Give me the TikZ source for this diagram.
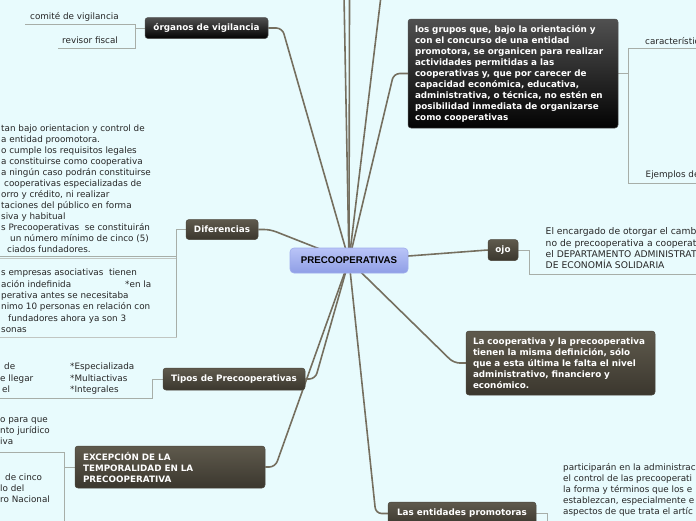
\documentclass[tikz,border=0pt]{standalone}
\usepackage{fontspec}
\setmainfont{DejaVu Sans}
\newfontfamily\arialf{Liberation Sans}
\usetikzlibrary{backgrounds,calc}
\definecolor{bgc}{HTML}{E8FBFD}
\definecolor{olT}{HTML}{5F5A4D}
\definecolor{olB}{HTML}{3B372E}
\definecolor{olD}{HTML}{4A463C}
\definecolor{kT}{HTML}{505050}
\definecolor{kB}{HTML}{030303}
\definecolor{cT}{HTML}{B9C4F7}
\definecolor{cB}{HTML}{8F9EE6}
\definecolor{cD}{HTML}{9FACEC}
\definecolor{connc}{HTML}{756F5F}
\definecolor{subc}{HTML}{A7AEA8}
\definecolor{leafc}{HTML}{262626}
\begin{document}
\begin{tikzpicture}[x=1pt,y=-1pt,
  tbox/.style={rounded corners=3pt, text=white, font=\bfseries\fontsize{8.8}{11}\selectfont,
    inner sep=0pt, top color=olT, bottom color=olB, draw=olD, line width=0.5pt},
  kbox/.style={rounded corners=3pt, text=white, font=\bfseries\fontsize{8.8}{11}\selectfont,
    inner sep=0pt, top color=kT, bottom color=kB, draw=kT, line width=0.5pt},
  cbox/.style={rounded corners=4pt, text=black, font=\arialf\bfseries\fontsize{9.7}{11}\selectfont,
    inner sep=0pt, top color=cT, bottom color=cB, draw=cD, line width=0.6pt,
    minimum width=118pt, minimum height=25pt},
  leaf/.style={font=\fontsize{8.8}{11}\selectfont, text=leafc, inner sep=0pt,
    anchor=north west, align=left, execute at begin node=\strut},
  conn/.style={draw=connc, line width=1.6pt, rounded corners=6pt},
  sub/.style={draw=subc, line width=0.9pt},
  subbox/.style={draw=subc!70, line width=0.8pt}]
\useasboundingbox (0,0) rectangle (696,520);
\begin{scope}
\clip (0,0) rectangle (696,520);
% main nodes
\node[cbox] (c) at (349,260.5) {PRECOOPERATIVAS};
\node[kbox, minimum width=123pt, minimum height=21pt] (orgs) at (206.5,28) {órganos de vigilancia};
\node[tbox, minimum width=72pt, minimum height=20pt] (dif) at (222,229.5) {Diferencias};
\node[tbox, minimum width=142pt, minimum height=22pt] (tipos) at (234,379) {Tipos de Precooperativas};
\node[tbox, text width=174pt, inner xsep=8pt, minimum height=42pt, align=left] (exc) at (170,467)
  {EXCEPCIÓN DE LA\\TEMPORALIDAD EN LA\\PRECOOPERATIVA};
\node[kbox, text width=196pt, inner xsep=7pt, minimum height=109pt, align=left] (grp) at (513,73.5)
  {los grupos que, bajo la orientación y\\con el concurso de una entidad\\promotora, se organicen para realizar\\actividades permitidas a las\\cooperativas y, que por carecer de\\capacidad económica, educativa,\\administrativa, o técnica, no estén en\\posibilidad inmediata de organizarse\\como cooperativas};
\node[tbox, minimum width=30pt, minimum height=21pt] (ojo) at (503,250) {ojo};
\node[tbox, text width=175pt, inner xsep=7pt, minimum height=64pt, align=left] (lac) at (560.5,363)
  {La cooperativa y la precooperativa\\tienen la misma definición, sólo\\que a esta última le falta el nivel\\administrativo, financiero y\\económico.};
\node[tbox, minimum width=148pt, minimum height=23pt] (ent) at (462,513.5) {Las entidades promotoras};
% leaves
\node[leaf] (cv) at (30,11.5) {comité de vigilancia};
\node[leaf] (rf) at (62,35.8) {revisor fiscal};
\node[leaf] (d1) at (1,124.8) {tan bajo orientacion y control de\\a entidad proomotora.\\o cumple los requisitos legales\\a constituirse como cooperativa\\a ningún caso podrán constituirse\\\hspace*{3pt}cooperativas especializadas de\\orro y crédito, ni realizar\\taciones del público en forma\\siva y habitual\\s Precooperativas~ se constituirán\\\hspace*{9pt}un número mínimo de cinco (5)\\\hspace*{6pt}ciados fundadores.};
\node[leaf, font=\fontsize{8.8}{11.4}\selectfont] (d2) at (1,268.8) {s empresas asociativas~ tienen\\\makebox[124pt][l]{ación indefinida}*en la\\perativa antes se necesitaba\\nimo 10 personas en relación con\\\hspace*{7pt}fundadores ahora ya son 3\\sonas};
\node[leaf, font=\fontsize{8.8}{11.5}\selectfont] (t1) at (70,362.8) {*Especializada\\*Multiactivas\\*Integrales};
\node[leaf, font=\fontsize{8.8}{11.5}\selectfont] (t0) at (0,362.8) {\hspace*{4pt}de\\e llegar\\\hspace*{2pt}el};
\node[leaf] (x1) at (0,417.8) {o para que\\nto jurídico\\iva};
\node[leaf] (x2) at (0,473.8) {\hspace*{5pt}de cinco\\lo del\\ro Nacional};
\node[leaf] (car) at (645,36.5) {característic};
\node[leaf] (ejm) at (645.5,169.3) {Ejemplos de};
\node[leaf, font=\fontsize{9.2}{11.3}\selectfont] (oc) at (545.5,227.6) {El encargado de otorgar el cambi\\no de precooperativa a cooperativ\\el DEPARTAMENTO ADMINISTRAT\\DE ECONOMÍA SOLIDARIA};
\node[leaf] (ec) at (563,462.8) {participarán en la administrac\\el control de las precooperati\\la forma y términos que los e\\establezcan, especialmente e\\aspectos de que trata el artíc};
% free ends
\coordinate (up1) at (344,-4);
\coordinate (up2) at (349.5,-4);
\coordinate (up3) at (381,-4);
\coordinate (cvL) at (25,24);  \coordinate (cvR) at (135,24);
\coordinate (rfL) at (58,48);  \coordinate (rfR) at (135,48);
\coordinate (d1L) at (-2,256); \coordinate (d1R) at (176,256);
\coordinate (d2TL) at (-2,258.5); \coordinate (d2BR) at (176,337);
\coordinate (t0L) at (-2,398); \coordinate (t1R) at (152,398);
\coordinate (e1L) at (-2,452); \coordinate (e1R) at (64,452); \coordinate (e2B) at (64,525);
\coordinate (g1L) at (628,48); \coordinate (g1R) at (700,48);
\coordinate (g2L) at (628,183); \coordinate (g2R) at (700,183);
\coordinate (o1L) at (529,274.5); \coordinate (o1R) at (700,274.5);
\coordinate (n1B) at (547,525);
\end{scope}
\begin{scope}[on background layer]
\clip (0,0) rectangle (696,520);
\fill[bgc] (-5,-5) rectangle (701,525);
% main connectors
\draw[conn] (c.center) -- (up1);
\draw[conn] (c.center) -- (up2);
\draw[conn] (c.center) -- (up3);
\draw[conn] (c.center) -- ($(orgs.east)+(14,0)$) -- (orgs.east);
\draw[conn] (c.center) -- ($(grp.west)+(-14,0)$) -- (grp.west);
\draw[conn] (c.center) -- (ojo.west);
\draw[conn] (c.center) -- ($(lac.west)+(-12,0)$) -- (lac.west);
\draw[conn] (c.center) -- ($(ent.west)+(-12,0)$) -- (ent.west);
\draw[conn] (c.center) -- ($(tipos.east)+(10,0)$) -- (tipos.east);
\draw[conn] (c.center) -- ($(exc.east)+(10,0)$) -- (exc.east);
\draw[conn] (c.center) -- ($(dif.east)+(12,0)$) -- (dif.east);
% sub connectors
\draw[sub] (orgs.west) -- (orgs.west -| cvR);
\draw[sub] (cvL) -- (cvR) -- (rfR) -- (rfL);
\draw[subbox] (d2TL) rectangle (d2BR);
\draw[sub] (d1L) -- (d1R);
\draw[sub] (dif.west) -| (d2BR);
\draw[sub] (tipos.west) -| (t1R) -- (t0L);
\draw[sub] (exc.west) -- (exc.west -| e1R);
\draw[sub] (e1L) -- (e1R) -- (e2B);
\draw[sub] (grp.east) -- (grp.east -| g1L);
\draw[sub] (g1R) -- (g1L) -- (g2L) -- (g2R);
\draw[sub] (ojo.east) -| (o1L) -- (o1R);
\draw[sub] (ent.east) -| (n1B);
\end{scope}
\end{tikzpicture}
\end{document}
